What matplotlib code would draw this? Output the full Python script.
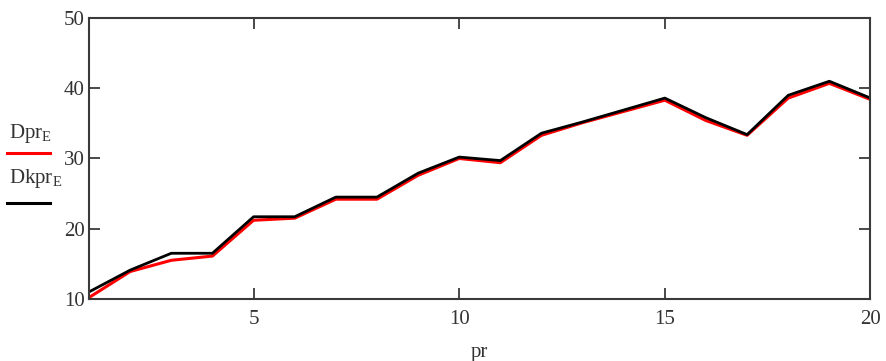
import numpy as np
from matplotlib import pyplot as plt

# values (Mathcad-style plot)
pr = list(range(1, 21))
Dpr_E = [10.2, 13.9, 15.5, 16.1, 21.2, 21.5, 24.2, 24.2, 27.6, 30.0,
         29.4, 33.3, 35.1, 36.7, 38.3, 35.4, 33.3, 38.6, 40.7, 38.4]
Dkpr_E = [11.0, 14.1, 16.5, 16.5, 21.7, 21.7, 24.5, 24.5, 27.9, 30.2,
          29.7, 33.6, 35.2, 36.9, 38.6, 35.8, 33.4, 39.0, 41.0, 38.6]
xticks = [5, 10, 15, 20]
yticks = [10, 20, 30, 40, 50]

plt.rcParams['font.family'] = ['Liberation Serif', 'DejaVu Serif']
plt.rcParams['mathtext.fontset'] = 'custom'
plt.rcParams['mathtext.rm'] = 'Liberation Serif'

txt_col = '#333333'
frame_col = '#3a3a3a'

fig = plt.figure(figsize=(8.86, 3.61), dpi=100)
ax = fig.add_axes([0.1005, 0.172, 0.882, 0.778])

ax.plot(pr, Dpr_E, c='#ff0000', lw=2.2, solid_joinstyle='round')
ax.plot(pr, Dkpr_E, c='#000000', lw=2.0, solid_joinstyle='round')

ax.set_xlim(1, 20)
ax.set_ylim(10, 50)
ax.set_xticks(xticks)
ax.set_yticks(yticks)
ax.tick_params(direction='in', length=8, width=1.3, color=frame_col,
               top=True, right=True, labelsize=15, labelcolor=txt_col, pad=3)
ax.tick_params(axis='x', pad=8)
for s in ax.spines.values():
    s.set_color(frame_col)
    s.set_linewidth(1.5)

ax.set_xlabel('pr', fontsize=15, color=txt_col, labelpad=10)

# Mathcad style legend on the left
fig.text(9/886, 1 - 138/361, r'Dpr$_\mathregular{E}$', fontsize=15, color=txt_col)
fig.add_artist(plt.Line2D([7/886, 50/886], [1 - 152.5/361, 1 - 152.5/361], c='#ff0000', lw=2.2))
fig.text(9/886, 1 - 183/361, r'Dkpr$_\mathregular{E}$', fontsize=15, color=txt_col)
fig.add_artist(plt.Line2D([7/886, 50/886], [1 - 202.5/361, 1 - 202.5/361], c='#000000', lw=2.2))

plt.savefig('out.png', dpi=100)
